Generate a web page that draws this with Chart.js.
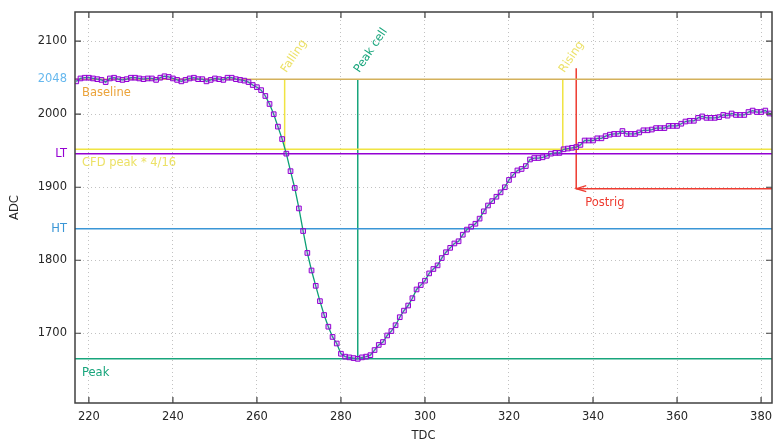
<!DOCTYPE html>
<html>
<head>
<meta charset="utf-8">
<script src="https://cdn.jsdelivr.net/npm/chart.js@4"></script>
<style>
  html, body { margin: 0; padding: 0; background: #fff; }
  canvas { display: block; }
</style>
</head>
<body>
<canvas id="trace" width="777" height="443"></canvas>
<script>
// samples, one per TDC bin starting at tdcFirst
const tdcFirst = 217;
const adc = [
  2045, 2049, 2050, 2050, 2049, 2048, 2047, 2044, 2049, 2050, // 217-226
  2048, 2047, 2048, 2050, 2050, 2049, 2048, 2049, 2049, 2047, // 227-236
  2050, 2052, 2051, 2049, 2047, 2045, 2047, 2049, 2050, 2048, // 237-246
  2048, 2045, 2047, 2049, 2048, 2047, 2050, 2050, 2048, 2047, // 247-256
  2046, 2044, 2040, 2037, 2033, 2025, 2014, 2000, 1983, 1966, // 257-266
  1946, 1922, 1899, 1871, 1840, 1810, 1786, 1765, 1744, 1725, // 267-276
  1709, 1695, 1686, 1672, 1668, 1667, 1666, 1665, 1667, 1668, // 277-286
  1670, 1677, 1684, 1688, 1697, 1703, 1711, 1722, 1731, 1738, // 287-296
  1748, 1760, 1766, 1772, 1782, 1788, 1793, 1803, 1811, 1817, // 297-306
  1823, 1826, 1835, 1842, 1846, 1850, 1857, 1867, 1875, 1881, // 307-316
  1887, 1893, 1900, 1910, 1917, 1923, 1925, 1929, 1938, 1940, // 317-326
  1940, 1941, 1943, 1946, 1947, 1947, 1952, 1953, 1954, 1955, // 327-336
  1958, 1964, 1964, 1964, 1967, 1967, 1970, 1972, 1973, 1973, // 337-346
  1977, 1973, 1973, 1973, 1975, 1978, 1978, 1979, 1981, 1981, // 347-356
  1981, 1984, 1984, 1984, 1987, 1990, 1991, 1991, 1995, 1997, // 357-366
  1995, 1995, 1995, 1996, 1999, 1998, 2001, 1999, 1999, 1999, // 367-376
  2003, 2005, 2003, 2003, 2005, 2001, 2000                    // 377-383
];

const xTicks = [220, 240, 260, 280, 300, 320, 340, 360, 380];
const yMajor = [1700, 1800, 1900, 2000, 2100];

// levels
const baseline = 2048;
const cfdLevel = 1952;
const ltLevel = 1946;
const htLevel = 1843;
const peakLevel = 1665;

// time markers
const fallingTdc = 266.6;
const peakCellTdc = 284;
const risingTdc = 332.8;
const postrigTdc = 336;
const postrigTop = 2063;
const postrigLevel = 1898;

const xMin = 216.7, xMax = 382.6;
const yMin = 1604.5, yMax = 2140;

const yNamed = { 2048: '2048', 1946: 'LT', 1843: 'HT' };
const yNamedColor = { 2048: '#66b8ee', 1946: '#9400d3', 1843: '#3a96d6' };
const yTicks = yMajor.concat([baseline, ltLevel, htLevel]).sort((a, b) => a - b);

const colors = {
  data: '#0c9f75',
  points: '#9400d3',
  baseLine: '#d4b15c',
  baseText: '#eba33a',
  cfd: '#f0e442',
  cfdText: '#ece166',
  lt: '#9400d3',
  ht: '#3a96d6',
  peak: '#18a57c',
  red: '#ee3b30'
};

const FONT = 'DejaVu Sans';
Chart.defaults.font.family = FONT;
Chart.defaults.font.size = 11.5;
Chart.defaults.color = '#262626';

const hline = (v, color) => ({
  data: [{ x: xMin, y: v }, { x: xMax, y: v }],
  borderColor: color, borderWidth: 1.5, pointRadius: 0, order: 2
});
const vline = (xv, y0, y1, color) => ({
  data: [{ x: xv, y: y0 }, { x: xv, y: y1 }],
  borderColor: color, borderWidth: 1.5, pointRadius: 0, order: 2
});

const overlay = {
  id: 'overlay',
  afterDraw(chart) {
    const { ctx, chartArea: a, scales: { x, y } } = chart;
    ctx.save();
    ctx.font = '11.5px "' + FONT + '"';
    ctx.textBaseline = 'middle';
    ctx.textAlign = 'left';

    ctx.fillStyle = colors.baseText;
    ctx.fillText('Baseline', a.left + 7, y.getPixelForValue(baseline) + 14);
    ctx.fillStyle = colors.cfdText;
    ctx.fillText('CFD peak * 4/16', a.left + 7, y.getPixelForValue(cfdLevel) + 14);
    ctx.fillStyle = colors.peak;
    ctx.fillText('Peak', a.left + 7, y.getPixelForValue(peakLevel) + 14);
    ctx.fillStyle = colors.red;
    ctx.fillText('Postrig', x.getPixelForValue(postrigTdc) + 9, y.getPixelForValue(postrigLevel) + 14.5);

    // rotated marker labels
    const tilted = (text, xv, color) => {
      ctx.save();
      ctx.translate(x.getPixelForValue(xv) + 1.5, y.getPixelForValue(baseline) - 6);
      ctx.rotate(-56 * Math.PI / 180);
      ctx.textBaseline = 'alphabetic';
      ctx.fillStyle = color;
      ctx.fillText(text, 0, 0);
      ctx.restore();
    };
    tilted('Falling', fallingTdc, colors.cfdText);
    tilted('Peak cell', peakCellTdc, colors.peak);
    tilted('Rising', risingTdc, colors.cfdText);

    // arrow head on postrig line
    const ax = x.getPixelForValue(postrigTdc), ay = y.getPixelForValue(postrigLevel);
    ctx.strokeStyle = colors.red;
    ctx.lineWidth = 1.3;
    ctx.beginPath();
    ctx.moveTo(ax + 10, ay - 3);
    ctx.lineTo(ax, ay);
    ctx.lineTo(ax + 10, ay + 3);
    ctx.stroke();

    // frame and inward ticks
    ctx.strokeStyle = '#404040';
    ctx.lineWidth = 1.5;
    ctx.strokeRect(a.left, a.top, a.right - a.left, a.bottom - a.top);
    ctx.lineWidth = 1.2;
    ctx.beginPath();
    xTicks.forEach(v => {
      const px = x.getPixelForValue(v);
      ctx.moveTo(px, a.bottom); ctx.lineTo(px, a.bottom - 6);
      ctx.moveTo(px, a.top); ctx.lineTo(px, a.top + 6);
    });
    yMajor.forEach(v => {
      const py = y.getPixelForValue(v);
      ctx.moveTo(a.left, py); ctx.lineTo(a.left + 6, py);
      ctx.moveTo(a.right, py); ctx.lineTo(a.right - 6, py);
    });
    ctx.stroke();
    ctx.restore();
  }
};

const ctx = document.getElementById('trace').getContext('2d');
new Chart(ctx, {
  type: 'line',
  data: {
    datasets: [
      {
        data: adc.map((v, i) => ({ x: tdcFirst + i, y: v })),
        borderColor: colors.data,
        borderWidth: 1.3,
        pointStyle: 'rect',
        pointRadius: 3.3,
        pointBorderWidth: 1,
        pointBorderColor: colors.points,
        pointBackgroundColor: 'rgba(170, 80, 235, 0.25)',
        order: 0
      },
      hline(baseline, colors.baseLine),
      hline(cfdLevel, colors.cfd),
      hline(ltLevel, colors.lt),
      hline(htLevel, colors.ht),
      hline(peakLevel, colors.peak),
      vline(fallingTdc, baseline, cfdLevel, colors.cfd),
      vline(peakCellTdc, baseline, peakLevel, colors.peak),
      vline(risingTdc, baseline, cfdLevel, colors.cfd),
      vline(postrigTdc, postrigTop, postrigLevel, colors.red),
      {
        data: [{ x: postrigTdc, y: postrigLevel }, { x: xMax, y: postrigLevel }],
        borderColor: colors.red, borderWidth: 1.5, pointRadius: 0, order: 2
      }
    ]
  },
  options: {
    responsive: false,
    animation: false,
    layout: { padding: { top: 12, right: 2, left: 0, bottom: 0 } },
    plugins: { legend: { display: false }, tooltip: { enabled: false } },
    scales: {
      x: {
        type: 'linear',
        min: xMin,
        max: xMax,
        afterBuildTicks: s => { s.ticks = xTicks.map(v => ({ value: v })); },
        afterFit: s => { s.height = 40; s.paddingLeft = 0; s.paddingRight = 0; },
        grid: { color: '#c2c2c2', lineWidth: 1, drawTicks: false },
        border: { display: false, dash: [1, 3] },
        ticks: { padding: 7, autoSkip: false, maxRotation: 0, callback: v => String(v) },
        title: { display: true, text: 'TDC', color: '#262626', padding: { top: 0, bottom: 0 } }
      },
      y: {
        type: 'linear',
        min: yMin,
        max: yMax,
        afterBuildTicks: s => { s.ticks = yTicks.map(v => ({ value: v })); },
        afterFit: s => { s.width = 75; s.paddingTop = 0; s.paddingBottom = 0; },
        grid: {
          color: c => (c.tick && yMajor.includes(c.tick.value)) ? '#c2c2c2' : 'rgba(0,0,0,0)',
          lineWidth: 1,
          drawTicks: false
        },
        border: { display: false, dash: [1, 3] },
        ticks: {
          padding: 8,
          autoSkip: false,
          color: c => yNamedColor[c.tick.value] || '#262626',
          callback: v => yNamed[v] || String(v)
        },
        title: { display: true, text: 'ADC', color: '#262626', padding: { top: 8, bottom: 0 } }
      }
    }
  },
  plugins: [overlay]
});
</script>
</body>
</html>
